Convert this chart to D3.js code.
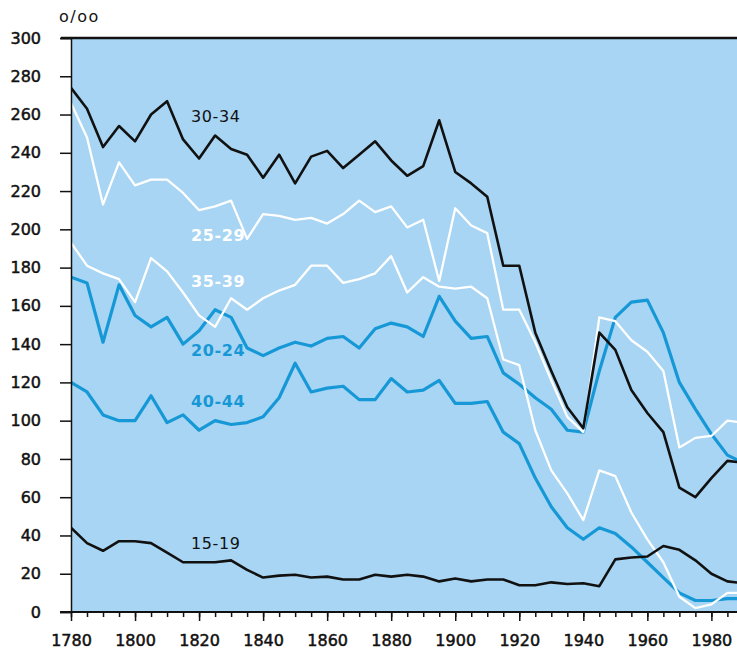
<!DOCTYPE html>
<html>
<head>
<meta charset="utf-8">
<script src="https://cdn.jsdelivr.net/npm/d3@7"></script>
<style>
  body { margin: 0; background: #fff; }
  svg { display: block; }
</style>
</head>
<body>
<div id="chart"></div>
<script>
const years = [1780, 1785, 1790, 1795, 1800, 1805, 1810, 1815, 1820, 1825,
               1830, 1835, 1840, 1845, 1850, 1855, 1860, 1865, 1870, 1875,
               1880, 1885, 1890, 1895, 1900, 1905, 1910, 1915, 1920, 1925,
               1930, 1935, 1940, 1945, 1950, 1955, 1960, 1965, 1970, 1975,
               1980, 1985, 1990];

const age3034 = [274, 263, 243, 254, 246, 260, 267, 247, 237, 249,
                 242, 239, 227, 239, 224, 238, 241, 232, 239, 246,
                 236, 228, 233, 257, 230, 224, 217, 181, 181, 146,
                 126, 107, 96, 146, 137, 116, 104, 94, 65, 60,
                 70, 79, 78];
const age2529 = [266, 248, 213, 235, 223, 226, 226, 219, 210, 212,
                 215, 195, 208, 207, 205, 206, 203, 208, 215, 209,
                 212, 201, 205, 173, 211, 202, 198, 158, 158, 141,
                 121, 102, 94, 154, 152, 142, 136, 126, 86, 91,
                 92, 100, 99];
const age3539 = [193, 181, 177, 174, 162, 185, 178, 167, 155, 149,
                 164, 158, 164, 168, 171, 181, 181, 172, 174, 177,
                 186, 167, 175, 170, 169, 170, 164, 132, 129, 95,
                 74, 62, 48, 74, 71, 52, 38, 26, 8, 2,
                 4, 10, 10];
const age2024 = [175, 172, 141, 171, 155, 149, 154, 140, 147, 158,
                 154, 138, 134, 138, 141, 139, 143, 144, 138, 148,
                 151, 149, 144, 165, 152, 143, 144, 125, 119, 112,
                 106, 95, 94, 126, 154, 162, 163, 146, 120, 106,
                 93, 82, 78];
const age4044 = [120, 115, 103, 100, 100, 113, 99, 103, 95, 100,
                 98, 99, 102, 112, 130, 115, 117, 118, 111, 111,
                 122, 115, 116, 121, 109, 109, 110, 94, 88, 70,
                 55, 44, 38, 44, 41, 34, 26, 18, 10, 6,
                 6, 7, 7];
const age1519 = [44, 36, 32, 37, 37, 36, 31, 26, 26, 26,
                 27, 22, 18, 19, 19.5, 18, 18.5, 17, 17, 19.5,
                 18.5, 19.5, 18.5, 16, 17.5, 16, 17, 17, 14, 14,
                 15.5, 14.6, 15, 13.5, 27.5, 28.5, 29, 34.5, 32.5, 27,
                 20, 16, 15];

const yTicks = [0, 20, 40, 60, 80, 100, 120, 140, 160, 180, 200, 220, 240, 260, 280, 300];
const xTicks = [1780, 1800, 1820, 1840, 1860, 1880, 1900, 1920, 1940, 1960, 1980];

// label text and where it sits (year, value)
const labelNames = ["30-34", "25-29", "35-39", "20-24", "40-44", "15-19"];
const labelAt = [[1817.5, 259], [1817.5, 197], [1817.5, 173], [1817.5, 137], [1817.5, 110], [1817.5, 36]];

const BG = "#a7d5f3";
const BLUE = "#1798d6";
const BLACK = "#111";
const AXIS_FONT = "'DejaVu Sans', Verdana, sans-serif";

const width = 737, height = 650;
const mLeft = 71, mRight = 737, mTop = 38, mBottom = 612;

const svg = d3.select("#chart").append("svg")
    .attr("width", width)
    .attr("height", height);

const x = d3.scaleLinear().domain([1780, 1988]).range([mLeft, mRight]);
const y = d3.scaleLinear().domain([0, 300]).range([mBottom, mTop]);

svg.append("rect")
    .attr("x", mLeft).attr("y", mTop)
    .attr("width", mRight - mLeft).attr("height", mBottom - mTop)
    .attr("fill", BG);

svg.append("clipPath").attr("id", "plot")
    .append("rect")
    .attr("x", mLeft).attr("y", mTop)
    .attr("width", mRight - mLeft).attr("height", mBottom - mTop);

const line = d3.line()
    .x((d, i) => x(years[i]))
    .y(d => y(d));

const series = [
    { data: age2024, color: BLUE, w: 3.2 },
    { data: age4044, color: BLUE, w: 3.2 },
    { data: age2529, color: "#fff", w: 2.3 },
    { data: age3539, color: "#fff", w: 2.3 },
    { data: age1519, color: BLACK, w: 2.6 },
    { data: age3034, color: BLACK, w: 2.6 }
];

const g = svg.append("g").attr("clip-path", "url(#plot)");
series.forEach(s => {
    g.append("path")
        .datum(s.data)
        .attr("fill", "none")
        .attr("stroke", s.color)
        .attr("stroke-width", s.w)
        .attr("stroke-linejoin", "round")
        .attr("d", line);
});

// series labels
const labelColors = [BLACK, "#fff", "#fff", BLUE, BLUE, BLACK];
svg.selectAll(".lbl")
    .data(labelNames)
    .enter()
    .append("text")
    .attr("x", (d, i) => x(labelAt[i][0]))
    .attr("y", (d, i) => y(labelAt[i][1]))
    .attr("dy", "0.36em")
    .attr("fill", (d, i) => labelColors[i])
    .attr("font-family", "'DejaVu Sans', sans-serif")
    .attr("font-size", 16)
    .attr("font-weight", (d, i) => labelColors[i] === BLACK ? "normal" : "bold")
    .attr("letter-spacing", 0.6)
    .text(d => d);

// y axis
const yAxis = d3.axisLeft(y)
    .tickValues(yTicks)
    .tickSize(11)
    .tickPadding(19)
    .tickFormat(d => d);

const yg = svg.append("g")
    .attr("transform", `translate(${mLeft},0)`)
    .call(yAxis);
yg.select(".domain").attr("stroke", BLACK).attr("stroke-width", 1.5);
yg.selectAll(".tick line").attr("stroke", BLACK).attr("stroke-width", 1.5);
yg.selectAll("text")
    .attr("fill", "#111")
    .attr("stroke", "#111")
    .attr("stroke-width", 0.5)
    .style("font-family", AXIS_FONT)
    .style("font-size", "16px");

// heavy line along the top at 300
svg.append("line")
    .attr("x1", mLeft - 10).attr("x2", mRight)
    .attr("y1", y(300)).attr("y2", y(300))
    .attr("stroke", BLACK).attr("stroke-width", 2.5);

// x axis: small ticks every 5 years, labelled every 20
const xMinor = d3.axisBottom(x)
    .tickValues(years.filter(v => v < 1988))
    .tickSize(5)
    .tickFormat("");
const xm = svg.append("g")
    .attr("transform", `translate(0,${mBottom})`)
    .call(xMinor);
xm.select(".domain").remove();
xm.selectAll(".tick line").attr("stroke", BLACK).attr("stroke-width", 1.5);

const xAxis = d3.axisBottom(x)
    .tickValues(xTicks)
    .tickSize(9)
    .tickPadding(14)
    .tickFormat(d => d);
const xg = svg.append("g")
    .attr("transform", `translate(0,${mBottom})`)
    .call(xAxis);
xg.select(".domain").remove();
xg.selectAll(".tick line").attr("stroke", BLACK).attr("stroke-width", 1.5);
xg.selectAll("text")
    .attr("fill", "#111")
    .attr("stroke", "#111")
    .attr("stroke-width", 0.5)
    .style("font-family", AXIS_FONT)
    .style("font-size", "16px");

svg.append("line")
    .attr("x1", mLeft - 11).attr("x2", mRight)
    .attr("y1", mBottom).attr("y2", mBottom)
    .attr("stroke", BLACK).attr("stroke-width", 1.8);

// unit label
svg.append("text")
    .attr("x", 59).attr("y", 22)
    .attr("fill", "#111")
    .attr("font-family", "'DejaVu Sans', sans-serif")
    .attr("font-size", 16)
    .attr("letter-spacing", 1.5)
    .text("o/oo");
</script>
</body>
</html>
